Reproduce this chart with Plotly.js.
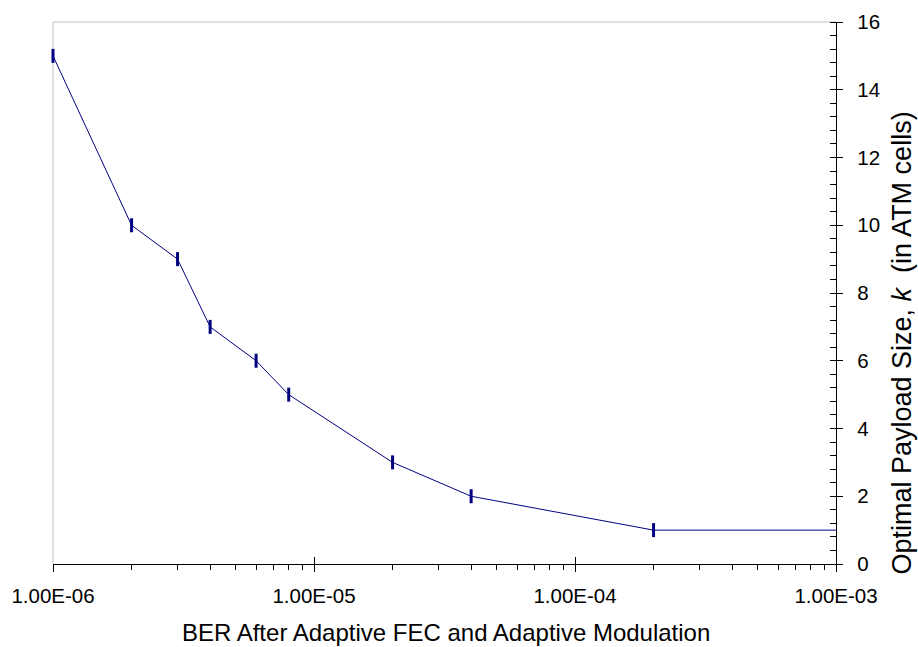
<!DOCTYPE html>
<html>
<head>
<meta charset="utf-8">
<script src="https://cdn.plot.ly/plotly-3.0.1.min.js"></script>
<style>html,body{margin:0;padding:0;background:#fff;}#chart{width:918px;height:647px;}</style>
</head>
<body>
<div id="chart"></div>
<script>
const berValues = [1e-6, 2e-6, 3e-6, 4e-6, 6e-6, 8e-6, 2e-5, 4e-5, 2e-4, 1e-3];
const payloadSize = [15, 10, 9, 7, 6, 5, 3, 2, 1, 1];
const xTickVals = [1e-6, 1e-5, 1e-4, 1e-3];
const xTickText = ["1.00E-06", "1.00E-05", "1.00E-04", "1.00E-03"];
const xTitle = "BER After Adaptive FEC and Adaptive Modulation";
const yTitle = "Optimal Payload Size, <i>k</i>  (in ATM cells)";

const FONT = "Liberation Sans, Arial, sans-serif";
const TICK_FS = 20.5;

const trace = {
  x: berValues, y: payloadSize, type: "scatter", mode: "lines+markers",
  line: {color: "#000080", width: 1},
  marker: {symbol: "line-ns", size: 10, color: "#000080", line: {color: "#000080", width: 3}},
  cliponaxis: false, hoverinfo: "x+y"
};
const ghost = {x: [1e-6], y: [0], xaxis: "x2", yaxis: "y2", mode: "markers", marker: {opacity: 0}, hoverinfo: "skip", showlegend: false};

const layout = {
  width: 918, height: 647,
  margin: {l: 53, r: 82, t: 22, b: 83},
  paper_bgcolor: "#fff", plot_bgcolor: "#fff",
  showlegend: false,
  font: {family: FONT, size: TICK_FS, color: "#000"},
  xaxis: {
    type: "log", range: [-6, -3], anchor: "y",
    tickvals: xTickVals, ticktext: xTickText,
    ticks: "outside", ticklen: 7, tickwidth: 1, tickcolor: "#000",
    minor: {ticks: "outside", ticklen: 5, tickwidth: 1, tickcolor: "#000", dtick: "D1", showgrid: false},
    showline: true, linecolor: "#000", linewidth: 1,
    showgrid: false, zeroline: false,
    tickfont: {family: FONT, size: TICK_FS, color: "#000"},
    ticklabelstandoff: 6,
    title: {text: ""}
  },
  xaxis2: {
    type: "log", range: [-6, -3], overlaying: "x", anchor: "y",
    tickvals: xTickVals, showticklabels: false,
    ticks: "inside", ticklen: 7, tickwidth: 1, tickcolor: "#000",
    showline: false, showgrid: false, zeroline: false
  },
  yaxis: {
    range: [0, 16], side: "right", anchor: "x",
    dtick: 2, tick0: 0,
    ticks: "outside", ticklen: 6, tickwidth: 1, tickcolor: "#000",
    minor: {ticks: "inside", ticklen: 6, tickwidth: 1, tickcolor: "#000", dtick: 0.4, showgrid: false},
    showline: true, linecolor: "#000", linewidth: 1,
    showgrid: false, zeroline: false,
    tickfont: {family: FONT, size: TICK_FS, color: "#000"},
    tickprefix: "\u2002",
    title: {text: ""}
  },
  yaxis2: {
    range: [0, 16], side: "right", overlaying: "y", anchor: "x",
    dtick: 2, tick0: 0, showticklabels: false,
    ticks: "inside", ticklen: 6, tickwidth: 1, tickcolor: "#000",
    showline: false, showgrid: false, zeroline: false
  },
  annotations: [
    {text: xTitle, xref: "paper", yref: "paper", x: 0.5013, y: -0.127, xanchor: "center", yanchor: "middle",
     showarrow: false, font: {family: FONT, size: 24, color: "#000"}},
    {text: yTitle, xref: "paper", yref: "paper", x: 1.0843, y: 0.4068, xanchor: "center", yanchor: "middle",
     textangle: -90, showarrow: false, font: {family: FONT, size: 27, color: "#000"}}
  ],
  shapes: [
    {type: "line", xref: "paper", yref: "paper", x0: 0, x1: 0, y0: 0, y1: 1, line: {color: "#c0c0c0", width: 1}, layer: "below"},
    {type: "line", xref: "paper", yref: "paper", x0: 0, x1: 1, y0: 1, y1: 1, line: {color: "#c0c0c0", width: 1}, layer: "below"}
  ]
};

Plotly.newPlot("chart", [ghost, trace], layout, {displayModeBar: false, staticPlot: true});
</script>
</body>
</html>
